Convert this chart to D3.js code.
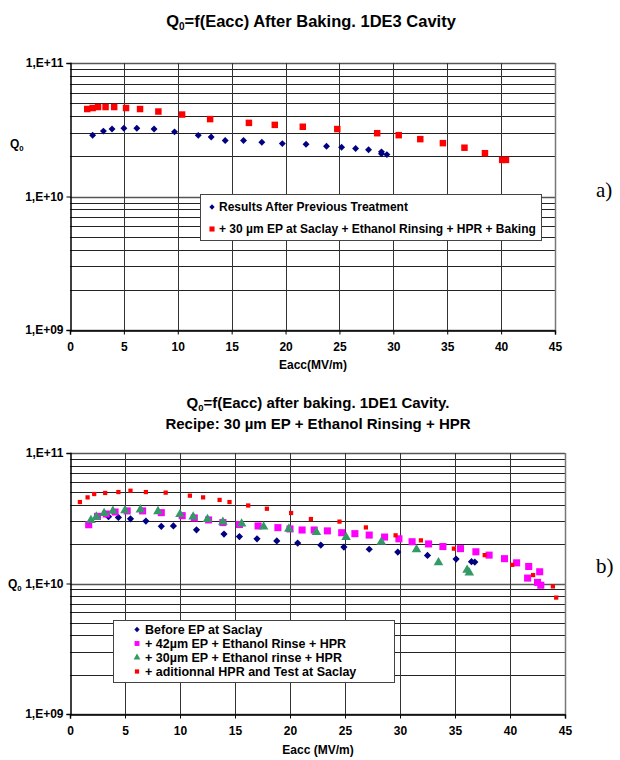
<!DOCTYPE html>
<html>
<head>
<meta charset="utf-8">
<script src="https://cdn.jsdelivr.net/npm/d3@7"></script>
<style>
  body { margin: 0; background: #fff; }
  svg text { font-family: "Liberation Sans", Arial, sans-serif; }
</style>
</head>
<body>
<svg id="chart" width="620" height="760"></svg>
<script>
// ---- data: [Eacc (MV/m), Q0] ----
const xTicks = [0, 5, 10, 15, 20, 25, 30, 35, 40, 45];
const yTicks = [1e9, 1e10, 1e11];

// chart a) 1DE3
const prevTreatment = [
  [2.1, 2.88e10], [3.1, 3.09e10], [3.9, 3.2e10], [5.0, 3.25e10], [6.2, 3.25e10],
  [7.8, 3.2e10], [9.7, 3.05e10], [11.9, 2.87e10], [13.1, 2.79e10], [14.4, 2.63e10],
  [16.1, 2.63e10], [17.8, 2.55e10], [19.7, 2.49e10], [21.9, 2.46e10], [23.8, 2.38e10],
  [25.2, 2.34e10], [26.5, 2.29e10], [27.7, 2.24e10], [28.9, 2.16e10], [28.9, 2.09e10],
  [29.4, 2.06e10]
];
const epBaking = [
  [1.6, 4.52e10], [2.1, 4.6e10], [2.6, 4.68e10], [3.3, 4.68e10], [4.1, 4.68e10],
  [5.2, 4.6e10], [6.5, 4.52e10], [8.2, 4.33e10], [10.4, 4.11e10], [13.0, 3.8e10],
  [16.6, 3.56e10], [19.0, 3.44e10], [21.6, 3.33e10], [24.8, 3.2e10], [28.5, 2.98e10],
  [30.5, 2.88e10], [32.5, 2.69e10], [34.6, 2.51e10], [36.6, 2.32e10], [38.5, 2.11e10],
  [40.1, 1.88e10], [40.45, 1.88e10]
];

// chart b) 1DE1
const beforeEP = [
  [3.5, 3.25e10], [4.4, 3.21e10], [5.5, 3.13e10], [6.9, 3.01e10], [8.3, 2.74e10],
  [9.4, 2.76e10], [11.5, 2.58e10], [14.0, 2.39e10], [15.4, 2.29e10], [17.0, 2.2e10],
  [18.8, 2.12e10], [20.7, 2.04e10], [22.8, 1.97e10], [24.9, 1.9e10], [27.2, 1.83e10],
  [29.8, 1.74e10], [32.5, 1.64e10], [35.1, 1.54e10], [36.5, 1.47e10], [36.8, 1.46e10]
];
const ep42 = [
  [1.7, 2.82e10], [2.5, 3.27e10], [3.3, 3.41e10], [4.1, 3.53e10], [5.2, 3.6e10],
  [6.6, 3.6e10], [8.3, 3.49e10], [10.2, 3.31e10], [11.3, 3.18e10], [12.6, 3.07e10],
  [13.9, 2.93e10], [15.4, 2.83e10], [17.1, 2.76e10], [18.9, 2.68e10], [20.0, 2.62e10],
  [21.1, 2.57e10], [22.2, 2.57e10], [23.4, 2.53e10], [24.7, 2.45e10], [25.9, 2.41e10],
  [27.2, 2.35e10], [28.6, 2.27e10], [29.9, 2.2e10], [31.1, 2.09e10], [32.6, 2.01e10],
  [33.9, 1.92e10], [35.5, 1.85e10], [36.9, 1.75e10], [38.1, 1.65e10], [39.5, 1.55e10],
  [40.6, 1.44e10], [41.7, 1.35e10], [42.7, 1.23e10], [41.6, 1.1e10], [42.5, 1.02e10],
  [42.8, 9.7e9]
];
const ep30 = [
  [1.9, 3.05e10], [2.4, 3.24e10], [3.1, 3.45e10], [3.9, 3.59e10], [5.0, 3.63e10],
  [6.4, 3.68e10], [8.0, 3.57e10], [10.0, 3.39e10], [11.2, 3.25e10], [12.5, 3.11e10],
  [13.9, 2.96e10], [15.6, 2.87e10], [17.6, 2.72e10], [19.9, 2.62e10], [22.4, 2.47e10],
  [25.1, 2.26e10], [28.3, 2.08e10], [31.5, 1.82e10], [33.5, 1.45e10], [36.1, 1.27e10],
  [36.3, 1.21e10]
];
const extraHPR = [
  [0.9, 4.21e10], [1.6, 4.57e10], [2.2, 4.85e10], [3.2, 4.94e10], [4.4, 5.02e10],
  [5.5, 5.14e10], [6.9, 5.02e10], [8.7, 4.97e10], [10.9, 4.71e10], [12.1, 4.57e10],
  [13.6, 4.37e10], [14.5, 4.21e10], [16.2, 3.96e10], [17.9, 3.74e10], [20.1, 3.47e10],
  [21.9, 3.12e10], [24.5, 2.98e10], [26.9, 2.69e10], [29.6, 2.34e10], [31.9, 2.14e10],
  [34.9, 1.85e10], [37.7, 1.65e10], [40.2, 1.39e10], [42.1, 1.16e10], [43.9, 9.5e9],
  [44.2, 7.8e9]
];

const svg = d3.select("#chart");
const fmtExp = d => "1,E+" + String(Math.round(Math.log10(d))).padStart(2, "0");

// Excel-like diamond = square turned 45 degrees
function symbolPath(kind, size) {
  const sym = kind === "triangle" ? d3.symbolTriangle : d3.symbolSquare;
  return d3.symbol().type(sym).size(size)();
}
const rot = kind => (kind === "diamond" ? " rotate(45)" : "");

// marker drawing helper
function drawMarkers(g, data, x, y, kind, color, size) {
  g.selectAll(null)
    .data(data)
    .enter()
    .append("path")
    .attr("d", symbolPath(kind, size))
    .attr("transform", d => `translate(${x(d[0])},${y(d[1])})` + rot(kind))
    .attr("fill", color);
}

function qLabel(g, x, y, size) {
  const t = g.append("text")
    .attr("x", x).attr("y", y)
    .attr("font-size", size).attr("font-weight", "bold");
  t.append("tspan").text("Q");
  t.append("tspan").attr("font-size", size * 0.65).attr("dy", 3).text("0");
  return t;
}

function drawFrame(box) {
  const x = d3.scaleLinear().domain([0, 45]).range([box.left, box.right]);
  const y = d3.scaleLog().domain([1e9, 1e11]).range([box.bottom, box.top]);
  const g = svg.append("g");

  // horizontal gridlines, every minor value of each decade
  const minor = [];
  for (let e = 9; e <= 10; e++) for (let m = 1; m <= 9; m++) minor.push(m * Math.pow(10, e));
  minor.push(1e11);
  g.append("g")
    .selectAll("line")
    .data(minor)
    .enter()
    .append("line")
    .attr("x1", box.left).attr("x2", box.right)
    .attr("y1", d => Math.round(y(d)) + 0.5).attr("y2", d => Math.round(y(d)) + 0.5)
    .attr("stroke", (d, i) => (i % 9 === 0 ? "#555" : "#222"))
    .attr("stroke-width", (d, i) => (i % 9 === 0 ? 1.5 : 1));

  // vertical gridlines
  g.append("g")
    .selectAll("line")
    .data(xTicks.slice(1))
    .enter()
    .append("line")
    .attr("x1", d => Math.round(x(d)) + 0.5).attr("x2", d => Math.round(x(d)) + 0.5)
    .attr("y1", box.top).attr("y2", box.bottom)
    .attr("stroke", d => (d === 45 ? "#777" : "#333"))
    .attr("stroke-width", d => (d === 45 ? 1.5 : 1));

  // axes
  const yAxis = d3.axisLeft(y).tickValues(yTicks).tickFormat(fmtExp).tickSize(4).tickPadding(3);
  const ya = g.append("g")
    .attr("transform", `translate(${box.left + 0.5},0)`)
    .call(yAxis);
  const xAxis = d3.axisBottom(x).tickValues(xTicks).tickSize(4).tickPadding(8);
  const xa = g.append("g")
    .attr("transform", `translate(0,${box.bottom + 0.5})`)
    .call(xAxis);
  [ya, xa].forEach(a => {
    a.select(".domain").attr("stroke", "#000").attr("stroke-width", 1.5);
    a.selectAll(".tick line").attr("stroke", "#000");
    a.selectAll("text")
      .attr("font-family", "Liberation Sans, Arial, sans-serif")
      .attr("font-size", 12).attr("font-weight", "bold").attr("fill", "#000");
  });
  return { x, y, g };
}

function drawLegend(g, box, items, fontSize, rowGap, markerX, textX) {
  g.append("rect")
    .attr("x", box.x + 0.5).attr("y", box.y + 0.5)
    .attr("width", box.w).attr("height", box.h)
    .attr("fill", "#fff").attr("stroke", "#444").attr("stroke-width", 1);
  items.forEach((it, i) => {
    const cy = box.y + box.first + i * rowGap;
    g.append("path")
      .attr("d", symbolPath(it.kind, it.size))
      .attr("transform", `translate(${box.x + markerX},${cy})` + rot(it.kind))
      .attr("fill", it.color);
    g.append("text")
      .attr("x", box.x + textX).attr("y", cy)
      .attr("dy", "0.36em")
      .attr("font-size", fontSize).attr("font-weight", "bold")
      .text(it.label);
  });
}

// ---------------- chart a) ----------------
const boxA = { left: 70, right: 555, top: 63, bottom: 330 };
const a = drawFrame(boxA);

const titleA = svg.append("text").attr("x", 311).attr("y", 27)
  .attr("text-anchor", "middle").attr("font-size", 16.5).attr("font-weight", "bold");
titleA.append("tspan").text("Q");
titleA.append("tspan").attr("font-size", 10).attr("dy", 3).text("0");
titleA.append("tspan").attr("dy", -3).text("=f(Eacc) After Baking. 1DE3 Cavity");

qLabel(svg, 10, 148, 12);
svg.append("text").attr("x", 313).attr("y", 369).attr("text-anchor", "middle")
  .attr("font-size", 12).attr("font-weight", "bold").text("Eacc(MV/m)");

drawMarkers(a.g, prevTreatment, a.x, a.y, "diamond", "#000080", 24);
drawMarkers(a.g, epBaking, a.x, a.y, "square", "#ff0000", 42);

drawLegend(svg, { x: 200, y: 194, w: 341, h: 46, first: 13 }, [
  { kind: "diamond", size: 14, color: "#000080", label: "Results After Previous Treatment" },
  { kind: "square", size: 26, color: "#ff0000", label: "+ 30 µm EP at Saclay + Ethanol Rinsing + HPR + Baking" }
], 12, 22, 12, 19);

svg.append("text").attr("x", 596).attr("y", 197)
  .style("font-family", "'Liberation Serif', 'Times New Roman', serif")
  .attr("font-size", 21).text("a)");

// ---------------- chart b) ----------------
const boxB = { left: 70, right: 565, top: 453, bottom: 714 };
const b = drawFrame(boxB);

const titleB = svg.append("text").attr("x", 318).attr("y", 408)
  .attr("text-anchor", "middle").attr("font-size", 15).attr("font-weight", "bold");
titleB.append("tspan").text("Q");
titleB.append("tspan").attr("font-size", 9.5).attr("dy", 3).text("0");
titleB.append("tspan").attr("dy", -3).text("=f(Eacc) after baking. 1DE1 Cavity.");
svg.append("text").attr("x", 318).attr("y", 429)
  .attr("text-anchor", "middle").attr("font-size", 15).attr("font-weight", "bold")
  .text("Recipe: 30 µm EP + Ethanol Rinsing + HPR");

qLabel(svg, 8, 588, 12);
svg.append("text").attr("x", 318).attr("y", 754).attr("text-anchor", "middle")
  .attr("font-size", 12).attr("font-weight", "bold").text("Eacc (MV/m)");

drawMarkers(b.g, beforeEP, b.x, b.y, "diamond", "#000080", 26);
drawMarkers(b.g, ep42, b.x, b.y, "square", "#ff00ff", 50);
drawMarkers(b.g, ep30, b.x, b.y, "triangle", "#339966", 40);
drawMarkers(b.g, extraHPR, b.x, b.y, "square", "#ff0000", 18);

drawLegend(svg, { x: 113, y: 620, w: 281, h: 62, first: 9.5 }, [
  { kind: "diamond", size: 14, color: "#000080", label: "Before EP at Saclay" },
  { kind: "square", size: 24, color: "#ff00ff", label: "+ 42µm EP + Ethanol Rinse + HPR" },
  { kind: "triangle", size: 20, color: "#339966", label: "+ 30µm EP + Ethanol rinse + HPR" },
  { kind: "square", size: 18, color: "#ff0000", label: "+ aditionnal HPR and Test at Saclay" }
], 12.5, 14, 24, 32);

svg.append("text").attr("x", 596).attr("y", 573)
  .style("font-family", "'Liberation Serif', 'Times New Roman', serif")
  .attr("font-size", 21).text("b)");
</script>
</body>
</html>
